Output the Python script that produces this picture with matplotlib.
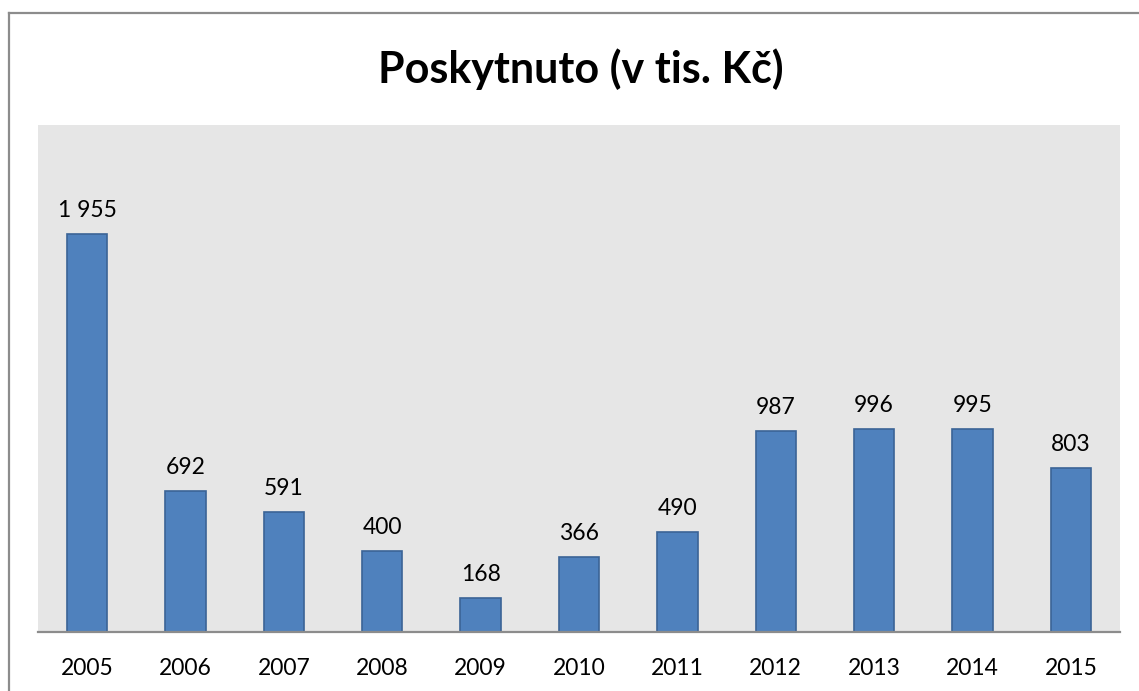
import matplotlib
matplotlib.use("Agg")
import matplotlib.pyplot as plt
from matplotlib.lines import Line2D

years = ["2005", "2006", "2007", "2008", "2009", "2010", "2011", "2012", "2013", "2014", "2015"]
values = [1955, 692, 591, 400, 168, 366, 490, 987, 996, 995, 803]
title = "Poskytnuto (v tis. Kč)"

W, H = 1139, 691
fig = plt.figure(figsize=(W / 100, H / 100), dpi=100)
fig.patch.set_facecolor("white")

# outer frame (left and top visible)
fig.add_artist(Line2D([8.5 / W, 8.5 / W], [0, 1 - 12.5 / H], color="#8c8c8c", lw=1.6, transform=fig.transFigure))
fig.add_artist(Line2D([8.5 / W, 1], [1 - 12.5 / H, 1 - 12.5 / H], color="#8c8c8c", lw=1.6, transform=fig.transFigure))

left, right, top, bottom = 38, 1120, 125, 632
ax = fig.add_axes([left / W, 1 - bottom / H, (right - left) / W, (bottom - top) / H])
ax.set_facecolor("#e6e6e6")

x = range(len(years))
bars = ax.bar(x, values, width=0.41, color="#4f81bd", edgecolor="#3b6496", linewidth=1.2, zorder=2)
ax.set_xlim(-0.5, len(years) - 0.5)
ax.set_ylim(0, 2490)

for xi, v in zip(x, values):
    lab = f"{v:,}".replace(",", " ")
    ax.annotate(lab, (xi, v), xytext=(0, 13), textcoords="offset pixels",
                ha="center", va="bottom", fontsize=16.5, family="Lato", color="#000000")

ax.set_xticks(list(x))
ax.set_xticklabels(years, fontsize=16.5, family="Lato")
ax.tick_params(axis="x", length=0, pad=19)
ax.set_yticks([])
for s in ["left", "right", "top"]:
    ax.spines[s].set_visible(False)
ax.spines["bottom"].set_color("#8c8c8c")
ax.spines["bottom"].set_linewidth(1.6)

fig.text(581 / W, 1 - 69 / H, title, ha="center", va="center", fontsize=31,
         fontweight="bold", family="Lato", color="#000000")

fig.savefig("out.png", dpi=100)
